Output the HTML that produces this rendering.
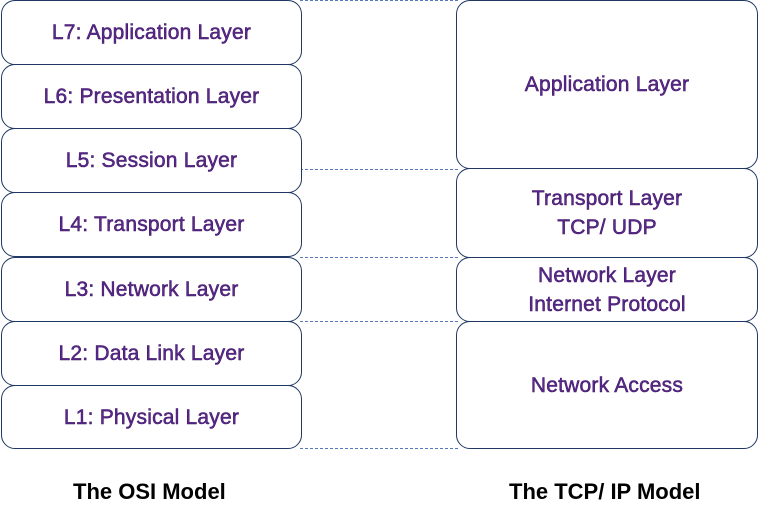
<!DOCTYPE html>
<html><head><style>
body{margin:0;width:758px;height:523px;background:#fff;position:relative;overflow:hidden;font-family:"Liberation Sans",sans-serif}
.b{position:absolute;box-sizing:border-box;border:1.5px solid #1f3864;border-radius:14px;background:#fff;display:flex;align-items:center;justify-content:center;text-align:center;color:#5a2a8c;font-size:21px;line-height:29px;-webkit-text-stroke:0.5px #3a1060;letter-spacing:0.2px}
.d{position:absolute;height:0;border-top:1px dashed #5577bb}
.t{position:absolute;font-weight:bold;font-size:22px;color:#000;top:479px}
</style></head><body>
<div class="d" style="left:300px;width:158px;top:0"></div>
<div class="d" style="left:300px;width:158px;top:169px"></div>
<div class="d" style="left:300px;width:158px;top:257px"></div>
<div class="d" style="left:300px;width:158px;top:321px"></div>
<div class="d" style="left:300px;width:158px;top:448px"></div>
<div class="b" style="left:1px;top:0;width:301px;height:65px">L7: Application Layer</div>
<div class="b" style="left:1px;top:64px;width:301px;height:65px">L6: Presentation Layer</div>
<div class="b" style="left:1px;top:128px;width:301px;height:65px">L5: Session Layer</div>
<div class="b" style="left:1px;top:192px;width:301px;height:65px">L4: Transport Layer</div>
<div class="b" style="left:1px;top:257px;width:301px;height:65px">L3: Network Layer</div>
<div class="b" style="left:1px;top:321px;width:301px;height:65px">L2: Data Link Layer</div>
<div class="b" style="left:1px;top:385px;width:301px;height:64px">L1: Physical Layer</div>
<div class="b" style="left:456px;top:0;width:302px;height:169px">Application Layer</div>
<div class="b" style="left:456px;top:168px;width:302px;height:90px">Transport Layer<br>TCP/ UDP</div>
<div class="b" style="left:456px;top:257px;width:302px;height:65px">Network Layer<br>Internet Protocol</div>
<div class="b" style="left:456px;top:321px;width:302px;height:128px">Network Access</div>
<div class="t" style="left:73px">The OSI Model</div>
<div class="t" style="left:509px">The TCP/ IP Model</div>
</body></html>
